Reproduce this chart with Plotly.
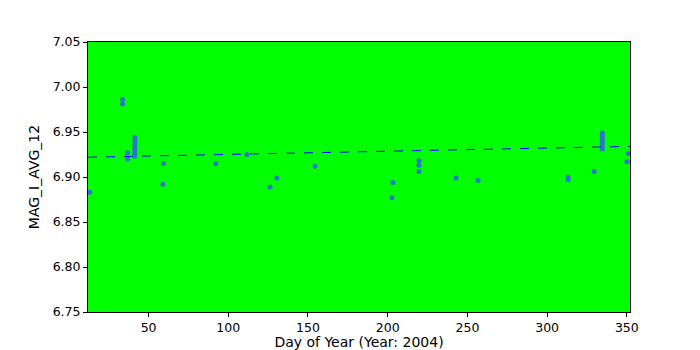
import plotly.graph_objects as go

days = [13, 33.7, 33.7, 36.8, 36.8,
        41.4, 41.4, 41.4, 41.4, 41.4, 41.4, 41.4, 41.4,
        59.4, 59.0, 92.2, 111.7, 126.2, 130.5, 154.4,
        203.3, 202.7, 219.6, 219.6, 219.6, 242.9, 256.7,
        313.2, 313.2, 329.5,
        334.6, 334.6, 334.6, 334.6, 334.6, 334.6, 334.6,
        351.0, 350.0]
mags = [6.883, 6.986, 6.981, 6.927, 6.920,
        6.944, 6.941, 6.938, 6.935, 6.932, 6.929, 6.926, 6.923,
        6.915, 6.892, 6.915, 6.925, 6.889, 6.899, 6.912,
        6.894, 6.877, 6.918, 6.913, 6.906, 6.899, 6.896,
        6.900, 6.897, 6.906,
        6.949, 6.946, 6.943, 6.940, 6.937, 6.934, 6.931,
        6.926, 6.917]
fit_x = [12, 352]
fit_y = [6.922, 6.934]
y_ticks = [6.75, 6.80, 6.85, 6.90, 6.95, 7.00, 7.05]
x_ticks = [50, 100, 150, 200, 250, 300, 350]

fig = go.Figure()
fig.add_trace(go.Scatter(x=days, y=mags, mode="markers",
                         marker=dict(color="#2878c8", size=5, symbol="circle"),
                         showlegend=False))
fig.add_trace(go.Scatter(x=fit_x, y=fit_y, mode="lines",
                         line=dict(color="blue", width=1, dash="dash"),
                         showlegend=False))

axis_common = dict(showgrid=False, zeroline=False, showline=True, linecolor="black",
                   linewidth=1, mirror=True, ticks="outside", ticklen=4,
                   tickcolor="black", tickfont=dict(family="DejaVu Sans", size=12.5, color="black"))
fig.update_layout(
    width=700, height=350,
    margin=dict(l=88, r=70, t=42, b=38),
    paper_bgcolor="white", plot_bgcolor="#00ff00",
    font=dict(family="DejaVu Sans", size=14, color="black"),
    xaxis=dict(range=[12, 352], tickvals=x_ticks, automargin=False,
               title=dict(text="Day of Year (Year: 2004)", standoff=13,
                          font=dict(size=14)), **axis_common),
    yaxis=dict(range=[6.75, 7.05], tickvals=y_ticks, tickformat=".2f", automargin=False,
               title=dict(text="MAG_I_AVG_12", standoff=9, font=dict(size=14)),
               **axis_common),
)
fig.write_html("out.html")
